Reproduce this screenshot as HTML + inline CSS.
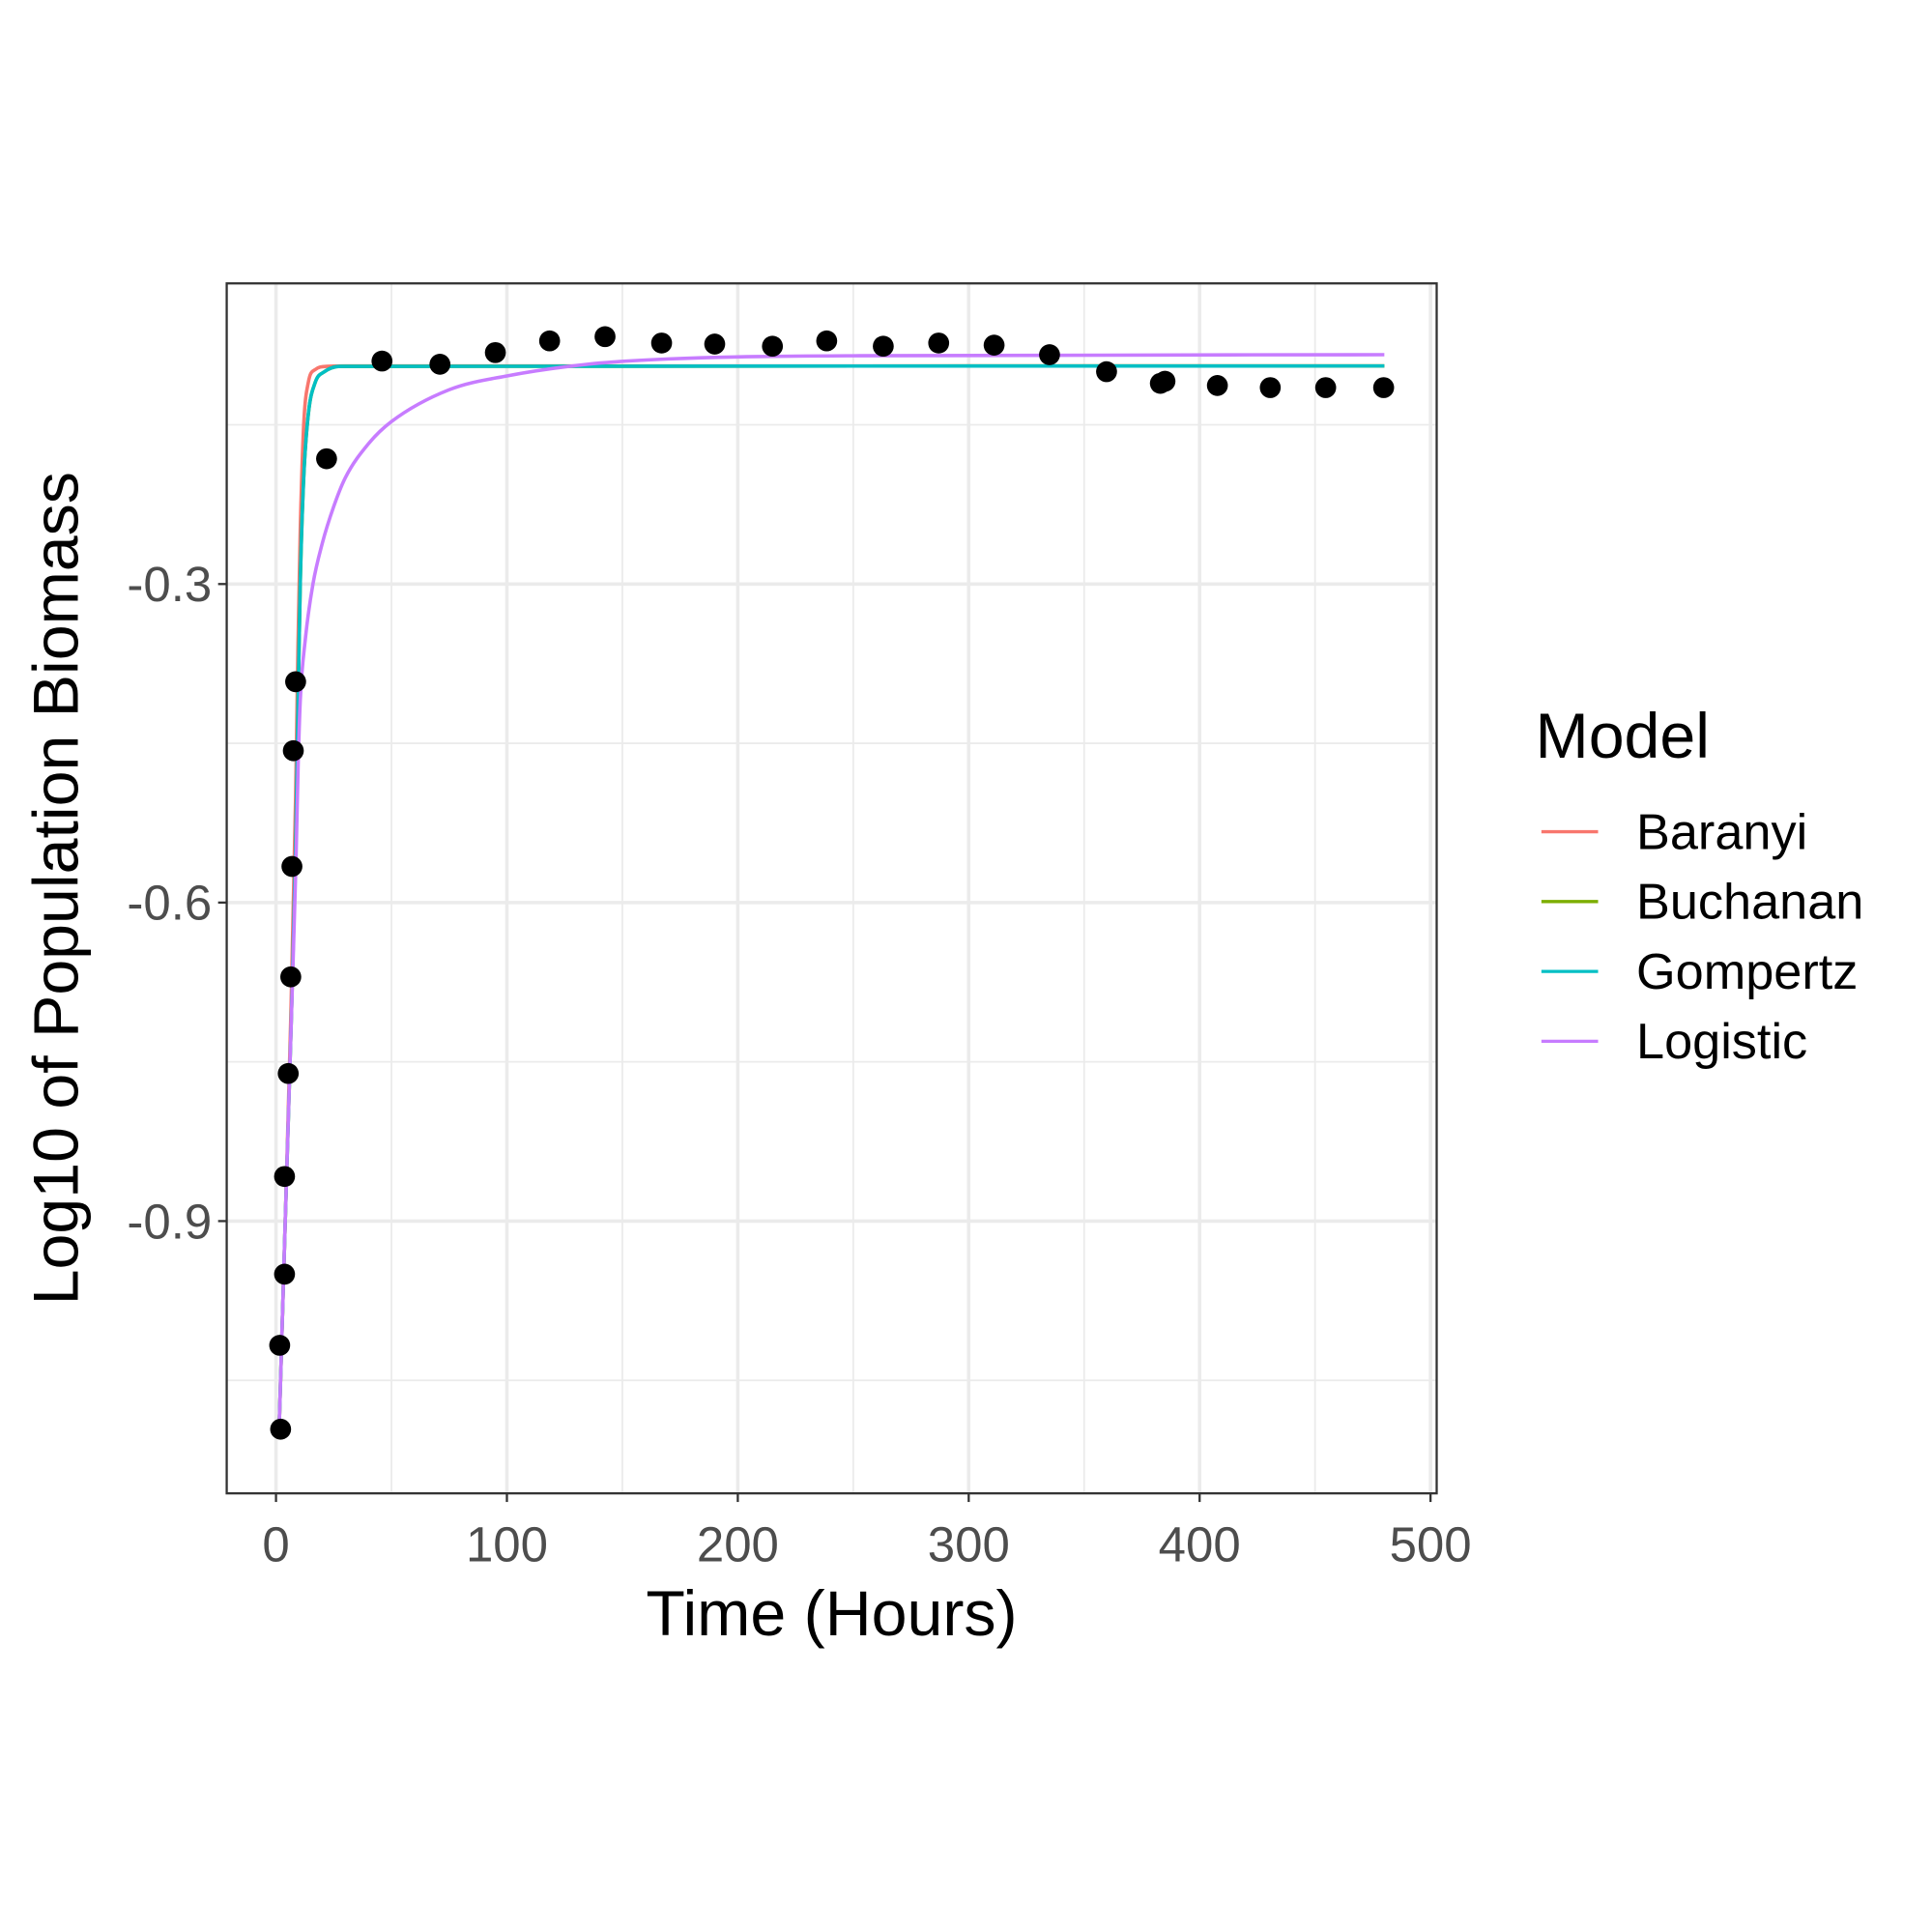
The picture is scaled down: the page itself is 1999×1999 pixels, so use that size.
<!DOCTYPE html>
<html><head><meta charset="utf-8"><style>html,body{margin:0;padding:0;background:#fff}svg{display:block}text{font-family:"Liberation Sans",Arial,sans-serif}</style></head>
<body>
<svg id="chart" width="1999" height="1999" viewBox="0 0 1568 1568" xmlns="http://www.w3.org/2000/svg">
<rect width="1568" height="1568" fill="#fff"/>
<g id="grid"></g>
<g id="curves"></g>
<g id="points"></g>
<rect x="184" y="230" width="982" height="982" fill="none" stroke="#333" stroke-width="1.8"/>
<g id="axes"></g>
<text x="675" y="1327" font-size="52" text-anchor="middle" fill="#000">Time (Hours)</text>
<text transform="translate(63,721) rotate(-90)" font-size="52" text-anchor="middle" fill="#000">Log10 of Population Biomass</text>
<g>
<text x="1246" y="615" font-size="52" fill="#000">Model</text>
<g id="legend-entries"></g>
</g>
</svg>
<script>
const xTicks=[0,100,200,300,400,500];
const yTicks=[-0.3,-0.6,-0.9];
const yMinor=[-0.15,-0.45,-0.75,-1.05];
const xMinor=[50,150,250,350,450];
const pointT=[2,1.6,3.7,3.7,5.3,6.4,6.9,7.5,8.5,21.9,45.9,71,95,118.5,142.5,167,190,215,238.5,263,287,311,335,359.7,383,385,407.7,430.6,454.6,479.7];
const pointV=[-1.096,-1.017,-0.95,-0.858,-0.761,-0.67,-0.566,-0.457,-0.392,-0.182,-0.09,-0.093,-0.082,-0.071,-0.067,-0.073,-0.074,-0.076,-0.071,-0.076,-0.073,-0.075,-0.084,-0.1,-0.111,-0.109,-0.113,-0.115,-0.115,-0.115];
const baranyiT=[1.3,4,6.5,8.5,9.5,10.5,12,14,17,22,30,480];
const baranyiV=[-1.1,-0.9,-0.7,-0.5,-0.36,-0.25,-0.15,-0.11,-0.098,-0.095,-0.0946,-0.0946];
const gompertzT=[1.3,4,6.5,8.5,9.5,10.5,12,14,17,21,28,480];
const gompertzV=[-1.1,-0.9,-0.72,-0.55,-0.42,-0.3,-0.2,-0.14,-0.11,-0.1,-0.095,-0.0946];
const logisticT=[1.3,4,6.5,8.6,9.6,10.5,12.8,16,20,25,30,40,50,75,100,135,170,250,480];
const logisticV=[-1.1,-0.9,-0.72,-0.566,-0.47,-0.41,-0.35,-0.3,-0.262,-0.227,-0.2,-0.168,-0.147,-0.117,-0.104,-0.093,-0.088,-0.085,-0.084];
const seriesNames=["Baranyi","Buchanan","Gompertz","Logistic"];
const seriesColors=["#F8766D","#7CAE00","#00BFC4","#C77CFF"];

const NS="http://www.w3.org/2000/svg";
const X=t=>224+t*(1161-224)/500;
const Y=v=>474+(-0.3-v)*861.7;
function mk(tag,attrs,parent){const e=document.createElementNS(NS,tag);for(const k in attrs)e.setAttribute(k,attrs[k]);parent.appendChild(e);return e;}
const grid=document.getElementById('grid'),axes=document.getElementById('axes');
yMinor.forEach(v=>{const l=mk('line',{x1:184,x2:1166,y1:Y(v),y2:Y(v),stroke:'#ebebeb','stroke-width':1.4},grid);});
xMinor.forEach(t=>{const l=mk('line',{x1:X(t),x2:X(t),y1:230,y2:1212,stroke:'#ebebeb','stroke-width':1.4},grid);});
yTicks.forEach(v=>{const l=mk('line',{x1:184,x2:1166,y1:Y(v),y2:Y(v),stroke:'#ebebeb','stroke-width':2.8},grid);
const tk=mk('line',{x1:177,x2:184,y1:Y(v),y2:Y(v),stroke:'#333','stroke-width':1.8},axes);
const tx=mk('text',{x:172,y:Y(v)+14,'font-size':40,'text-anchor':'end',fill:'#4d4d4d'},axes);tx.textContent=v.toFixed(1);});
xTicks.forEach(t=>{const l=mk('line',{x1:X(t),x2:X(t),y1:230,y2:1212,stroke:'#ebebeb','stroke-width':2.8},grid);
const tk=mk('line',{x1:X(t),x2:X(t),y1:1212,y2:1219,stroke:'#333','stroke-width':1.8},axes);
const tx=mk('text',{x:X(t),y:1267,'font-size':40,'text-anchor':'middle',fill:'#4d4d4d'},axes);tx.textContent=String(t);});
function monotone(ts,vs){
  const n=ts.length,x=ts.map(X),y=vs.map(Y),d=[],m=[];
  for(let i=0;i<n-1;i++)d.push((y[i+1]-y[i])/(x[i+1]-x[i]));
  m[0]=d[0];m[n-1]=d[n-2];
  for(let i=1;i<n-1;i++){m[i]=(d[i-1]*d[i]<=0)?0:(d[i-1]+d[i])/2;}
  for(let i=0;i<n-1;i++){if(d[i]===0){m[i]=0;m[i+1]=0;continue;}
    const a=m[i]/d[i],b=m[i+1]/d[i],s=a*a+b*b;if(s>9){const tau=3/Math.sqrt(s);m[i]=tau*a*d[i];m[i+1]=tau*b*d[i];}}
  let p='M'+x[0]+','+y[0];
  for(let i=0;i<n-1;i++){const h=(x[i+1]-x[i])/3;
    p+=' C'+(x[i]+h)+','+(y[i]+m[i]*h)+' '+(x[i+1]-h)+','+(y[i+1]-m[i+1]*h)+' '+x[i+1]+','+y[i+1];}
  return p;}
const curves=document.getElementById('curves');
const curveData=[[baranyiT,baranyiV],[gompertzT,gompertzV],[gompertzT,gompertzV],[logisticT,logisticV]];
curveData.forEach((cd,i)=>{const pa=mk('path',{d:monotone(cd[0],cd[1]),fill:'none',stroke:seriesColors[i],'stroke-width':2.8},curves);

});
const pts=document.getElementById('points');
pointT.forEach((t,i)=>{const c=mk('circle',{cx:X(t),cy:Y(pointV[i]),r:8.5,fill:'#000'},pts);

});
const le=document.getElementById('legend-entries');
seriesNames.forEach((n,i)=>{const y=675+i*56.7;
const l=mk('line',{x1:1251,x2:1297,y1:y,y2:y,stroke:seriesColors[i],'stroke-width':2.6},le);


const tx=mk('text',{x:1328,y:y+14,'font-size':41,fill:'#000'},le);tx.textContent=n;

});
</script>
</body></html>
